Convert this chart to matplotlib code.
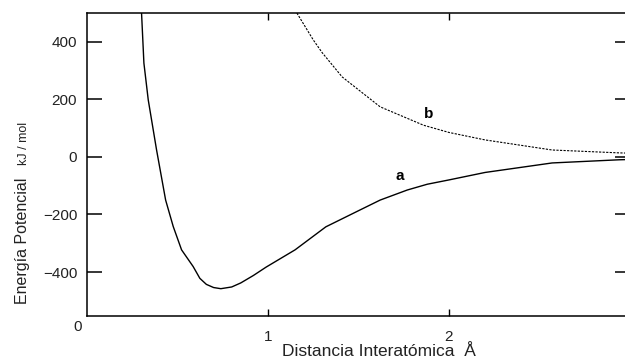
import numpy as np
import matplotlib.pyplot as plt

plt.rcParams['font.family'] = ['Liberation Sans', 'DejaVu Sans']

# curva a (enlazante)
a_x = [0.302, 0.315, 0.339, 0.385, 0.435, 0.477, 0.523, 0.587, 0.624, 0.66, 0.70,
       0.74, 0.80, 0.85, 0.92, 0.99, 1.15, 1.32, 1.51, 1.62, 1.77, 1.88, 2.0,
       2.2, 2.57, 2.94, 3.0]
a_y = [500, 326, 198, 24, -150, -242, -323, -381, -422, -443, -454,
       -458, -452, -438, -412, -383, -323, -243, -184, -150, -115, -95, -80,
       -54, -21, -10, -9]

# curva b (repulsiva)
b_x = [1.16, 1.25, 1.30, 1.41, 1.62, 1.86, 2.0, 2.2, 2.57, 2.94, 3.0]
b_y = [500, 407, 362, 278, 174, 110, 85, 59, 24, 14, 13]

yticks = [-400, -200, 0, 200, 400]
ytick_labels = ['\u2212400', '\u2212200', '0', '200', '400']
xticks = [1, 2, 3]

fig = plt.figure(figsize=(6.25, 3.62), dpi=100)
ax = fig.add_axes([0.139, 0.127, 0.869, 0.837])

ax.plot(a_x, a_y, color='black', lw=1.0)
ax.plot(b_x, b_y, color='black', lw=0.8, dashes=(2, 1.2))

ax.text(1.73, -65, 'a', fontsize=11, fontweight='bold', ha='center', va='center')
ax.text(1.89, 150, 'b', fontsize=11, fontweight='bold', ha='center', va='center')

ax.set_xlim(0, 3)
ax.set_ylim(-553, 500)

ax.set_yticks(yticks)
ax.set_yticklabels(ytick_labels, fontsize=11, color='#222222')
ax.set_xticks(xticks)
ax.set_xticklabels([str(t) for t in xticks], fontsize=11, color='#222222')
ax.tick_params(axis='y', direction='in', length=11, width=1.1, left=True, right=True, pad=7)
ax.tick_params(axis='x', direction='in', length=5, width=1.0, top=True, bottom=True, pad=10)
for s in ax.spines.values():
    s.set_linewidth(1.1)

# el cero del eje x va en la esquina
ax.text(-0.017, -0.036, '0', transform=ax.transAxes, fontsize=11, color='#222222',
        ha='center', va='center')

fig.text(0.607, 0.028, 'Distancia Interat\u00f3mica  \u00c5', fontsize=12.5,
         color='#222222', ha='center', va='center')
fig.text(0.036, 0.335, 'Energ\u00eda Potencial', fontsize=11.5, color='#222222',
         rotation=90, ha='center', va='center')
fig.text(0.039, 0.603, 'kJ / mol', fontsize=9, color='#222222',
         rotation=90, ha='center', va='center')

fig.savefig('out.png', dpi=100)
